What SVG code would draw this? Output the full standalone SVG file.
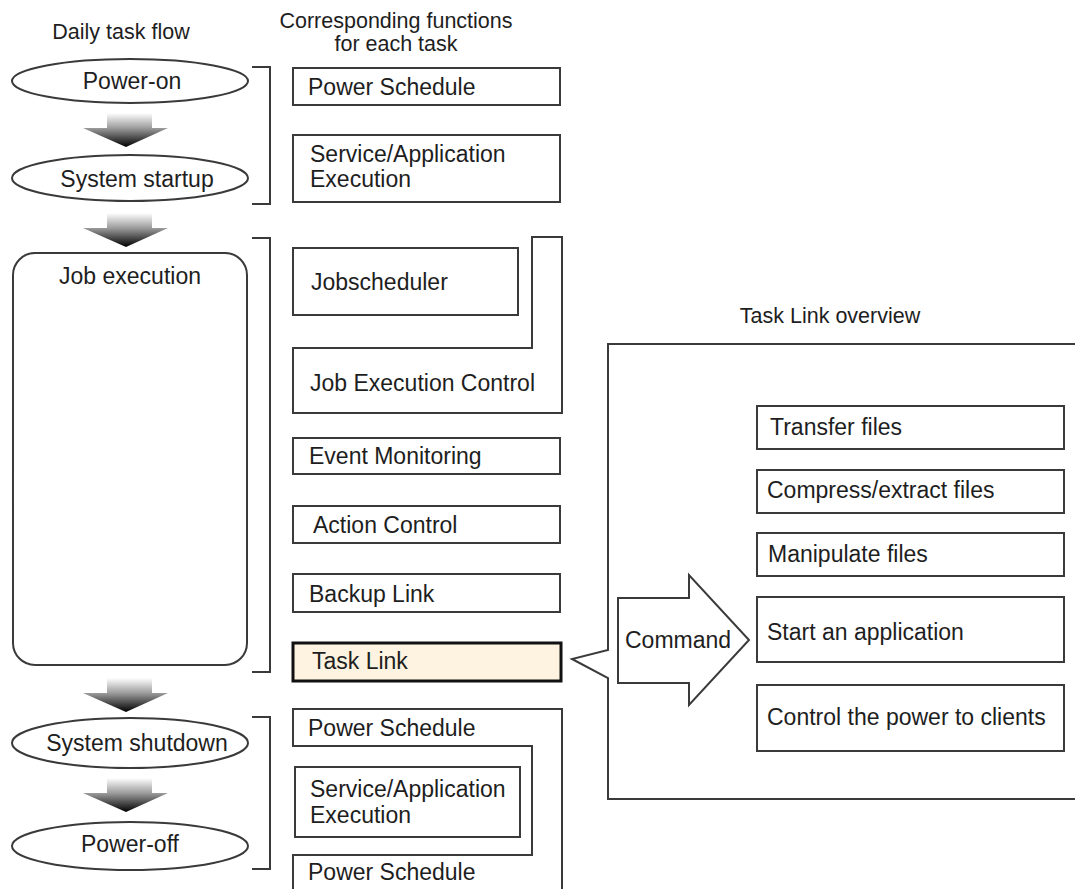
<svg xmlns="http://www.w3.org/2000/svg" width="1075" height="889" viewBox="0 0 1075 889">
<style>
text{font-family:"Liberation Sans",Arial,sans-serif;font-size:23px;fill:#1e1e1e}
.t{font-size:21.5px}
.m{text-anchor:middle}
.b{fill:#fff;stroke:#3a3a3a;stroke-width:2}
.br{fill:none;stroke:#3a3a3a;stroke-width:2}
</style>
<defs>
<linearGradient id="g" x1="0" y1="0" x2="0" y2="1">
<stop offset="0" stop-color="#ffffff"/>
<stop offset="0.45" stop-color="#9a9a9a"/>
<stop offset="1" stop-color="#000000"/>
</linearGradient>
<path id="dn" d="M107 0 H152 V15 H168 L126 34 L83 15 H107 Z" fill="url(#g)"/>
</defs>
<text class="t m" x="121" y="39">Daily task flow</text>
<text class="t m" x="396" y="28">Corresponding functions</text>
<text class="t m" x="396" y="51">for each task</text>
<text class="t m" x="830" y="323">Task Link overview</text>
<g id="connectors">
<use href="#dn" y="113"/>
<use href="#dn" y="213"/>
<use href="#dn" y="678"/>
<use href="#dn" y="778"/>
<path class="br" d="M252 67 H270 V204 H252"/>
<path class="br" d="M252 238 H270 V672 H252"/>
<path class="br" d="M252 717 H270 V869 H252"/>
</g>
<g id="power-on"><ellipse class="b" cx="130" cy="81" rx="118" ry="22"/><text class="m" x="132" y="89">Power-on</text></g>
<g id="system-startup"><ellipse class="b" cx="130" cy="178" rx="118" ry="23"/><text class="m" x="137" y="187">System startup</text></g>
<g id="job-execution"><rect class="b" x="13" y="253" width="234" height="412" rx="22"/><text class="m" x="130" y="284">Job execution</text></g>
<g id="system-shutdown"><ellipse class="b" cx="130" cy="743" rx="118" ry="25"/><text class="m" x="137" y="751">System shutdown</text></g>
<g id="power-off"><ellipse class="b" cx="130" cy="846" rx="118" ry="24"/><text class="m" x="130" y="852">Power-off</text></g>
<g id="power-schedule-1"><rect class="b" x="293" y="68" width="267" height="37"/><text x="308" y="95">Power Schedule</text></g>
<g id="service-app-1"><rect class="b" x="293" y="135" width="267" height="67"/><text x="310" y="162">Service/Application</text><text x="310" y="187">Execution</text></g>
<g id="job-execution-control"><path class="b" d="M293 348 H532 V237 H562 V413 H293 Z"/><text x="310" y="391">Job Execution Control</text></g>
<g id="jobscheduler"><rect class="b" x="293" y="248" width="225" height="67"/><text x="311" y="290">Jobscheduler</text></g>
<g id="event-monitoring"><rect class="b" x="293" y="438" width="267" height="36"/><text x="309" y="464">Event Monitoring</text></g>
<g id="action-control"><rect class="b" x="293" y="506" width="267" height="37"/><text x="313" y="533">Action Control</text></g>
<g id="backup-link"><rect class="b" x="293" y="574" width="267" height="38"/><text x="309" y="602">Backup Link</text></g>
<g id="task-link"><rect x="293" y="643" width="268" height="38" fill="#fdf3e0" stroke="#111" stroke-width="3"/><text x="312" y="669">Task Link</text></g>
<g id="power-schedule-2"><path class="b" d="M293 709 H562 V895 H293 V855 H532 V746 H293 Z"/><text x="308" y="736">Power Schedule</text><text x="308" y="880">Power Schedule</text></g>
<g id="service-app-2"><rect class="b" x="295" y="767" width="225" height="70"/><text x="310" y="797">Service/Application</text><text x="310" y="823">Execution</text></g>
<g id="task-link-overview"><path class="b" d="M1080 344 H608 V650 L572 659 L608 678 V799 H1080"/></g>
<g id="command"><path class="b" d="M618 598 H689 V575 L749 640 L689 705 V683 H618 Z"/><text x="625" y="648">Command</text></g>
<g id="transfer-files"><rect class="b" x="757" y="406" width="307" height="43"/><text x="770" y="435">Transfer files</text></g>
<g id="compress-files"><rect class="b" x="757" y="470" width="307" height="43"/><text x="767" y="498">Compress/extract files</text></g>
<g id="manipulate-files"><rect class="b" x="757" y="533" width="307" height="43"/><text x="768" y="562">Manipulate files</text></g>
<g id="start-application"><rect class="b" x="757" y="597" width="307" height="65"/><text x="767" y="640">Start an application</text></g>
<g id="control-power"><rect class="b" x="757" y="685" width="307" height="66"/><text x="767" y="725">Control the power to clients</text></g>
</svg>
